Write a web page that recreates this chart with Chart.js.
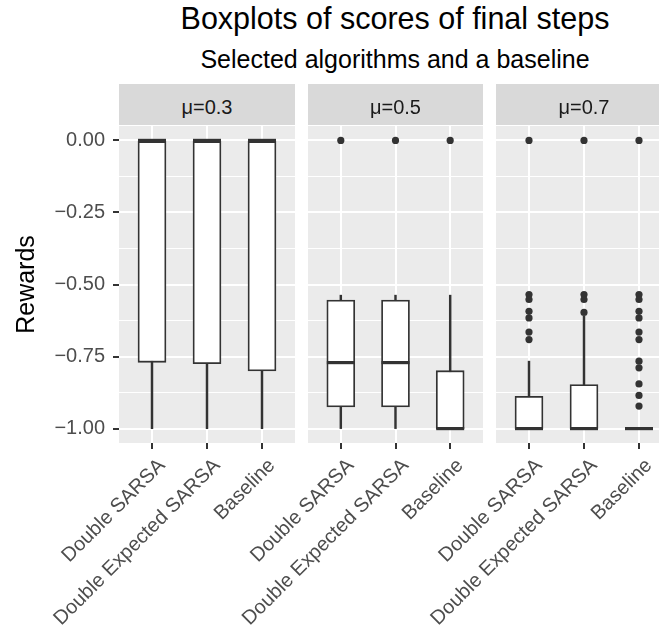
<!DOCTYPE html>
<html lang="en">
<head>
<meta charset="UTF-8">
<title>Boxplots of scores of final steps</title>
<script src="https://cdn.jsdelivr.net/npm/chart.js"></script>
<style>
  body {
    margin: 0;
    background: #fff;
    font-family: 'Liberation Sans', Arial, sans-serif;
    width: 659px;
    height: 634px;
    overflow: hidden;
    position: relative;
  }
  .txt { position: absolute; left: 0; width: 790px; text-align: center; color: #000; white-space: nowrap; }
  #title { top: 3px; font-size: 30.5px; line-height: 30px; }
  #subtitle { top: 47px; font-size: 25px; line-height: 25px; }
  .strip {
    position: absolute;
    top: 84px;
    height: 41px;
    background: #D9D9D9;
    color: #1A1A1A;
    font-size: 20px;
    line-height: 41px;
    text-align: center;
    white-space: nowrap;
  }
  .strip span { position: relative; top: 3px; }
  canvas { position: absolute; top: 126px; }
</style>
</head>
<body>
<div id="title" class="txt">Boxplots of scores of final steps</div>
<div id="subtitle" class="txt">Selected algorithms and a baseline</div>

<script>
// data
const categories = ['Double SARSA', 'Double Expected SARSA', 'Baseline'];
const facets = ['\u03bc=0.3', '\u03bc=0.5', '\u03bc=0.7'];

// one row per facet, one value per category
const whiskerLow  = [[-1, -1, -1], [-1, -1, -1], [-1, -1, -1]];
const q1          = [[-0.77, -0.775, -0.80], [-0.925, -0.925, -1], [-1, -1, -1]];
const median      = [[0, 0, 0], [-0.771, -0.771, -1], [-1, -1, -1]];
const q3          = [[0, 0, 0], [-0.554, -0.554, -0.799], [-0.888, -0.847, -1]];
const whiskerHigh = [[0, 0, 0], [-0.537, -0.537, -0.537], [-0.766, -0.61, -1]];
const outliers = [
  [[], [], []],
  [[0], [0], [0]],
  [[0, -0.535, -0.552, -0.593, -0.616, -0.665, -0.691],
   [0, -0.535, -0.552, -0.597],
   [0, -0.535, -0.552, -0.593, -0.616, -0.665, -0.691, -0.766, -0.789, -0.845, -0.885, -0.922]]
];

const yTicks = [0, -0.25, -0.5, -0.75, -1];
const yMinor = [-0.125, -0.375, -0.625, -0.875];

// panel geometry (page px)
const panelLeft  = [119, 308, 496];
const panelRight = [295, 483, 672];
const plotTop = 126, plotBottom = 443, pageH = 634;

Chart.defaults.font.family = "'Liberation Sans', Arial, sans-serif";

const panelBg = {
  id: 'panelBg',
  beforeDraw(chart) {
    const {ctx, chartArea: a} = chart;
    ctx.save();
    ctx.fillStyle = '#EBEBEB';
    ctx.fillRect(a.left, a.top, a.right - a.left, a.bottom - a.top);
    ctx.restore();
  }
};

const fmt = v => (v < 0 ? '\u2212' : '') + Math.abs(v).toFixed(2);
const isMajor = v => yTicks.includes(v);

facets.forEach((name, i) => {
  const strip = document.createElement('div');
  strip.className = 'strip';
  strip.style.left = panelLeft[i] + 'px';
  strip.style.width = (panelRight[i] - panelLeft[i]) + 'px';
  strip.innerHTML = '<span>' + name + '</span>';
  document.body.appendChild(strip);

  const first = i === 0;
  const left = first ? 0 : panelLeft[i] - 110;
  const w = panelRight[i] - left + 4;
  const h = pageH - plotTop;
  const cv = document.createElement('canvas');
  cv.width = w; cv.height = h;
  cv.style.left = left + 'px';
  document.body.appendChild(cv);

  const pts = arr => arr.map((v, k) => ({x: k + 1, y: v}));

  new Chart(cv, {
    type: 'bar',
    data: {
      datasets: [
        {
          type: 'line', order: 1,
          data: outliers[i].flatMap((vals, k) => vals.map(v => ({x: k + 1, y: v}))),
          showLine: false, pointRadius: 3.6, pointBackgroundColor: '#333333', pointBorderWidth: 0
        },
        {
          type: 'line', order: 2,
          data: pts(median[i]),
          showLine: false, pointStyle: 'line', pointRadius: 14,
          pointBorderWidth: 3.2, pointBorderColor: '#333333'
        },
        {
          type: 'bar', order: 3,
          data: q1[i].map((v, k) => ({x: k + 1, y: [v, q3[i][k]]})),
          backgroundColor: '#FFFFFF', borderColor: '#333333', borderWidth: 1.8,
          borderSkipped: false, barThickness: 28, grouped: false
        },
        {
          type: 'bar', order: 4,
          data: whiskerLow[i].map((v, k) => ({x: k + 1, y: [v, whiskerHigh[i][k]]})),
          backgroundColor: '#333333', borderWidth: 0, barThickness: 1.8, grouped: false
        }
      ]
    },
    options: {
      responsive: false,
      animation: false,
      events: [],
      layout: {
        autoPadding: false,
        padding: { left: first ? 0 : panelLeft[i] - left, right: 4, top: 0, bottom: 0 }
      },
      plugins: { legend: { display: false }, tooltip: { enabled: false } },
      scales: {
        x: {
          type: 'linear', min: 0.4, max: 3.6, offset: false,
          afterBuildTicks: ax => { ax.ticks = categories.map((c, k) => ({value: k + 1})); },
          afterFit: ax => { ax.height = pageH - plotBottom; ax.paddingLeft = 0; ax.paddingRight = 0; },
          border: { display: false },
          grid: { color: '#FFFFFF', lineWidth: 2, offset: false, tickColor: '#333333', tickLength: 6, tickWidth: 2 },
          ticks: {
            autoSkip: false, maxRotation: 45, minRotation: 45,
            color: '#4D4D4D', font: { size: 20 }, padding: 5, labelOffset: 10,
            callback: v => categories[v - 1]
          }
        },
        y: {
          min: -1.05, max: 0.05,
          afterBuildTicks: ax => {
            ax.ticks = yTicks.concat(yMinor).sort((a, b) => a - b).map(v => ({value: v}));
          },
          afterFit: ax => { ax.width = first ? panelLeft[0] : 0; ax.paddingTop = 0; ax.paddingBottom = 0; },
          border: { display: false },
          grid: {
            color: '#FFFFFF',
            lineWidth: c => isMajor(c.tick.value) ? 2 : 1,
            tickColor: c => isMajor(c.tick.value) ? '#333333' : 'rgba(0,0,0,0)',
            tickLength: 6, tickWidth: 2, drawTicks: first
          },
          ticks: {
            display: first, color: '#4D4D4D', font: { size: 20 }, padding: 8,
            callback: v => isMajor(v) ? fmt(v) : ''
          },
          title: {
            display: first, text: 'Rewards', color: '#000000',
            font: { size: 25 }, padding: { top: 12, bottom: 0 }
          }
        }
      }
    },
    plugins: [panelBg]
  });
});
</script>
</body>
</html>
